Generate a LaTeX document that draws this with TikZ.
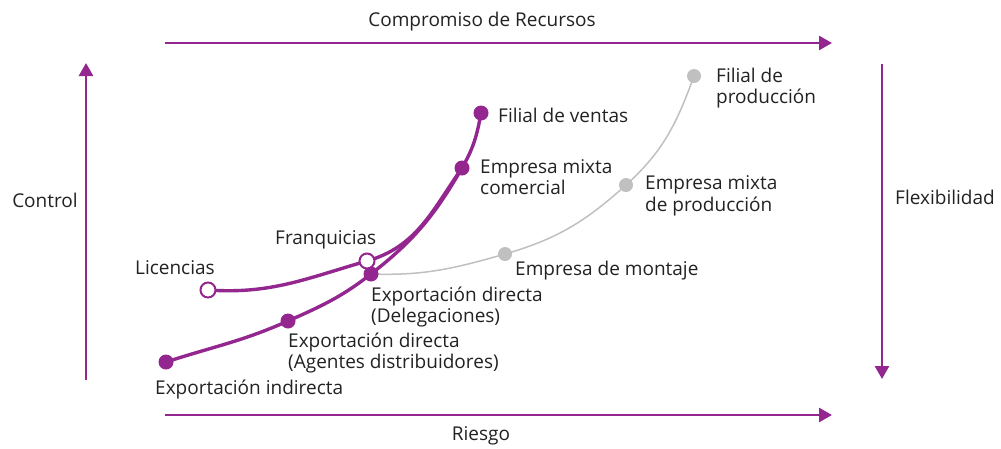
\documentclass[tikz,border=0pt]{standalone}
\usepackage{fontspec}
\setmainfont{Open Sans}
\usepackage{xcolor}
\usetikzlibrary{arrows.meta}
\definecolor{morado}{HTML}{93278F}
\definecolor{gris}{HTML}{C0C0C0}
\definecolor{texto}{HTML}{222222}

\begin{document}
\begin{tikzpicture}[x=1pt, y=-1pt,
        eje/.style={morado, line width=2.6pt, -{Triangle[width=14pt,length=13pt]}},
        linea/.style={morado, line width=3.4pt},
        lineagris/.style={gris, line width=1.5pt},
        punto/.style={circle, fill=morado, inner sep=0pt, minimum size=15pt},
        hueco/.style={circle, draw=morado, fill=white, line width=2pt, inner sep=0pt, minimum size=15pt},
        puntogris/.style={circle, fill=gris, inner sep=0pt, minimum size=14pt},
        etiqueta/.style={font=\fontsize{19}{21.5}\selectfont, text=texto, align=left, inner sep=0pt}]
        \useasboundingbox (0,0) rectangle (1001,448);

        % ejes
        \coordinate (ri) at (165, 415);   \coordinate (rf) at (832, 415);
        \coordinate (ki) at (165, 43);    \coordinate (kf) at (832, 43);
        \coordinate (ci) at (86, 380);    \coordinate (cf) at (86, 63);
        \coordinate (fi) at (882, 64);    \coordinate (ff) at (882, 379);
        \draw[eje] (ri) -- (rf);
        \draw[eje] (ki) -- (kf);
        \draw[eje] (ci) -- (cf);
        \draw[eje] (fi) -- (ff);
        \node[etiqueta] (riesgo) at (481, 436) {Riesgo};
        \node[etiqueta] (recursos) at (482, 22) {Compromiso de Recursos};
        \node[etiqueta] (control) at (45, 200) {Control};
        \node[etiqueta] (flex) at (945, 197) {Flexibilidad};

        % puntos
        \coordinate (ei) at (166, 362);
        \coordinate (ad) at (288, 321);
        \coordinate (de) at (371, 274);
        \coordinate (em) at (462, 168);
        \coordinate (fv) at (481, 113);
        \coordinate (li) at (208, 290);
        \coordinate (fr) at (367, 261);
        \coordinate (mo) at (505, 254);
        \coordinate (mp) at (626, 185);
        \coordinate (fp) at (694, 76);

        % curvas
        \draw[lineagris] (de) to[out=-2, in=196] (mo)
            to[out=16, in=222] (mp) to[out=42, in=250] (fp);
        \draw[linea] (li) to[out=-4, in=196] (fr) to[out=16, in=235] (em);
        \draw[linea] (ei) to[out=18, in=204] (ad) to[out=24, in=218] (de)
            to[out=38, in=240] (em) to[out=60, in=260] (fv);

        \node[punto] (nei) at (ei) {};
        \node[punto] (nad) at (ad) {};
        \node[punto] (nde) at (de) {};
        \node[punto] (nem) at (em) {};
        \node[punto] (nfv) at (fv) {};
        \node[hueco] (nli) at (li) {};
        \node[hueco] (nfr) at (fr) {};
        \node[puntogris] (nmo) at (mo) {};
        \node[puntogris] (nmp) at (mp) {};
        \node[puntogris] (nfp) at (fp) {};

        % etiquetas
        \node[etiqueta, anchor=west] (lei) at (155, 389) {Exportación indirecta};
        \node[etiqueta, anchor=west] (lad) at (288, 353) {Exportación directa\\(Agentes distribuidores)};
        \node[etiqueta, anchor=west] (lde) at (371, 307) {Exportación directa\\(Delegaciones)};
        \node[etiqueta, anchor=west] (lem) at (480, 177) {Empresa mixta\\comercial};
        \node[etiqueta, anchor=west] (lfv) at (498, 115) {Filial de ventas};
        \node[etiqueta, anchor=west] (lli) at (135, 268) {Licencias};
        \node[etiqueta, anchor=west] (lfr) at (275, 240) {Franquicias};
        \node[etiqueta, anchor=west] (lmo) at (515, 271) {Empresa de montaje};
        \node[etiqueta, anchor=west] (lmp) at (645, 196) {Empresa mixta\\de producción};
        \node[etiqueta, anchor=west] (lfp) at (716, 88) {Filial de\\producción};
    \end{tikzpicture}
\end{document}
